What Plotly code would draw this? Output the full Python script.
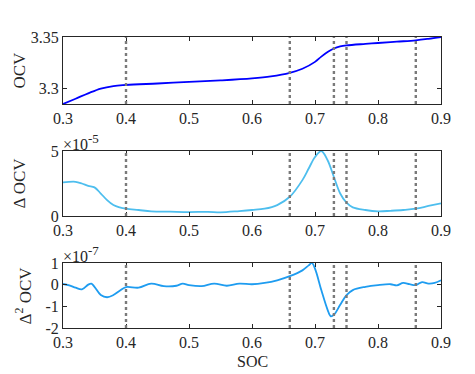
import plotly.graph_objects as go
from plotly.subplots import make_subplots

soc1 = [0.30, 0.32, 0.34, 0.36, 0.38, 0.40, 0.45, 0.50, 0.55, 0.60, 0.63, 0.66, 0.68, 0.70, 0.71, 0.72, 0.73, 0.74, 0.75, 0.78, 0.80, 0.83, 0.86, 0.88, 0.90]
ocv = [3.2843, 3.2895, 3.2948, 3.2995, 3.3020, 3.3030, 3.3045, 3.3060, 3.3075, 3.3095, 3.3115, 3.3150, 3.3190, 3.3258, 3.3310, 3.3356, 3.3390, 3.3410, 3.3420, 3.3435, 3.3444, 3.3457, 3.3470, 3.3485, 3.3503]

soc2 = [0.30, 0.32, 0.33, 0.34, 0.35, 0.36, 0.37, 0.38, 0.39, 0.40, 0.42, 0.44, 0.47, 0.50, 0.53, 0.55, 0.58, 0.60, 0.62, 0.64, 0.66, 0.68, 0.69, 0.70, 0.71, 0.72, 0.73, 0.74, 0.75, 0.76, 0.78, 0.80, 0.82, 0.84, 0.86, 0.88, 0.90]
docv = [2.58, 2.63, 2.50, 2.32, 2.20, 1.73, 1.22, 0.84, 0.66, 0.56, 0.46, 0.36, 0.33, 0.30, 0.32, 0.28, 0.38, 0.46, 0.56, 0.84, 1.48, 2.76, 3.65, 4.54, 5.00, 4.29, 3.00, 1.73, 1.02, 0.66, 0.46, 0.36, 0.40, 0.46, 0.56, 0.77, 0.97]

soc3 = [0.30, 0.31, 0.32, 0.33, 0.34, 0.345, 0.35, 0.36, 0.37, 0.38, 0.39, 0.40, 0.42, 0.44, 0.46, 0.48, 0.49, 0.50, 0.52, 0.54, 0.56, 0.58, 0.60, 0.62, 0.64, 0.66, 0.68, 0.69, 0.695, 0.70, 0.71, 0.72, 0.725, 0.73, 0.74, 0.75, 0.76, 0.78, 0.80, 0.82, 0.83, 0.84, 0.85, 0.86, 0.87, 0.88, 0.89, 0.90]
d2ocv = [0.03, -0.03, -0.14, -0.22, 0.00, 0.05, -0.10, -0.48, -0.58, -0.48, -0.28, -0.11, -0.14, 0.05, -0.07, -0.05, 0.05, -0.02, -0.07, 0.05, -0.05, 0.05, 0.02, 0.08, 0.20, 0.39, 0.66, 0.89, 1.00, 0.74, -0.25, -1.16, -1.46, -1.39, -0.93, -0.48, -0.25, -0.10, -0.02, 0.02, -0.03, 0.08, 0.02, -0.02, 0.12, 0.05, 0.08, 0.20]

vlines = [0.40, 0.66, 0.73, 0.75, 0.86]
xticks = [0.3, 0.4, 0.5, 0.6, 0.7, 0.8, 0.9]
xticklabels = ["0.3", "0.4", "0.5", "0.6", "0.7", "0.8", "0.9"]

FONT = "Liberation Serif, Times New Roman, serif"
TXT = "#262626"

fig = make_subplots(rows=3, cols=1, shared_xaxes=False, vertical_spacing=0.05)
fig.add_trace(go.Scatter(x=soc1, y=ocv, mode="lines", line=dict(color="#0000ff", width=1.8, shape="spline")), row=1, col=1)
fig.add_trace(go.Scatter(x=soc2, y=docv, mode="lines", line=dict(color="#4dbeee", width=1.8, shape="spline")), row=2, col=1)
fig.add_trace(go.Scatter(x=soc3, y=d2ocv, mode="lines", line=dict(color="#1e9cf0", width=1.8, shape="spline")), row=3, col=1)

for xa, ya in [("x", "y"), ("x2", "y2"), ("x3", "y3")]:
    for v in vlines:
        fig.add_shape(type="line", xref=xa, yref=ya + " domain", x0=v, x1=v, y0=0, y1=1,
                      line=dict(color="#7a7a7a", width=2.4, dash="dot"), layer="above")

axis_common = dict(showgrid=False, zeroline=False, showline=True, linecolor=TXT, linewidth=1,
                   mirror="ticks", ticks="inside", ticklen=4, tickcolor=TXT, automargin=False,
                   tickfont=dict(family=FONT, size=16, color=TXT))

# page is offset by the 8px body margin, so margins are reduced accordingly
fig.update_layout(
    width=475, height=374, showlegend=False,
    plot_bgcolor="white", paper_bgcolor="white",
    margin=dict(l=55, r=42, t=29, b=54),
    font=dict(family=FONT, size=16, color=TXT),
)
fig.update_layout(
    xaxis=dict(domain=[0, 1], range=[0.3, 0.9], tickvals=xticks, ticktext=xticklabels, **axis_common),
    xaxis2=dict(domain=[0, 1], range=[0.3, 0.9], tickvals=xticks, ticktext=xticklabels, **axis_common),
    xaxis3=dict(domain=[0, 1], range=[0.3, 0.9], tickvals=xticks, ticktext=xticklabels, **axis_common),
    yaxis=dict(domain=[0.7698, 1.0], range=[3.2843, 3.3503], tickvals=[3.3, 3.35], ticktext=["3.3", "3.35"], **axis_common),
    yaxis2=dict(domain=[0.3849, 0.6082], range=[0, 5], tickvals=[0, 5], ticktext=["0", "5"], **axis_common),
    yaxis3=dict(domain=[0.0, 0.2234], range=[-2, 1], tickvals=[-2, -1, 0, 1], ticktext=["-2", "-1", "0", "1"], **axis_common),
)

def px2fx(px):
    return (px - 8 - 55) / 378.0

title_font = dict(family=FONT, size=17, color=TXT)
for ya, txt, xc in [("y", "OCV", 19), ("y2", "Δ OCV", 20), ("y3", "Δ<sup>2</sup> OCV", 24)]:
    fig.add_annotation(xref="paper", yref=ya + " domain", x=px2fx(xc), y=0.5, xanchor="center", yanchor="middle",
                       text=txt, textangle=-90, showarrow=False, font=title_font)

fig.add_annotation(xref="paper", yref="paper", x=px2fx(252), y=(320 - 353) / 291.0, xanchor="center", yanchor="middle",
                   text="SOC", showarrow=False, font=dict(family=FONT, size=16, color=TXT))

for xa, ya, ex in [("x2", "y2", "-5"), ("x3", "y3", "-7")]:
    fig.add_annotation(xref=xa + " domain", yref=ya + " domain", x=0.0, y=1.0, xanchor="left", yanchor="bottom",
                       text="×10<sup><span style='font-size:13px'>" + ex + "</span></sup>", showarrow=False,
                       font=dict(family=FONT, size=16, color=TXT), yshift=-4, xshift=-2)

fig.write_html("out.html")
